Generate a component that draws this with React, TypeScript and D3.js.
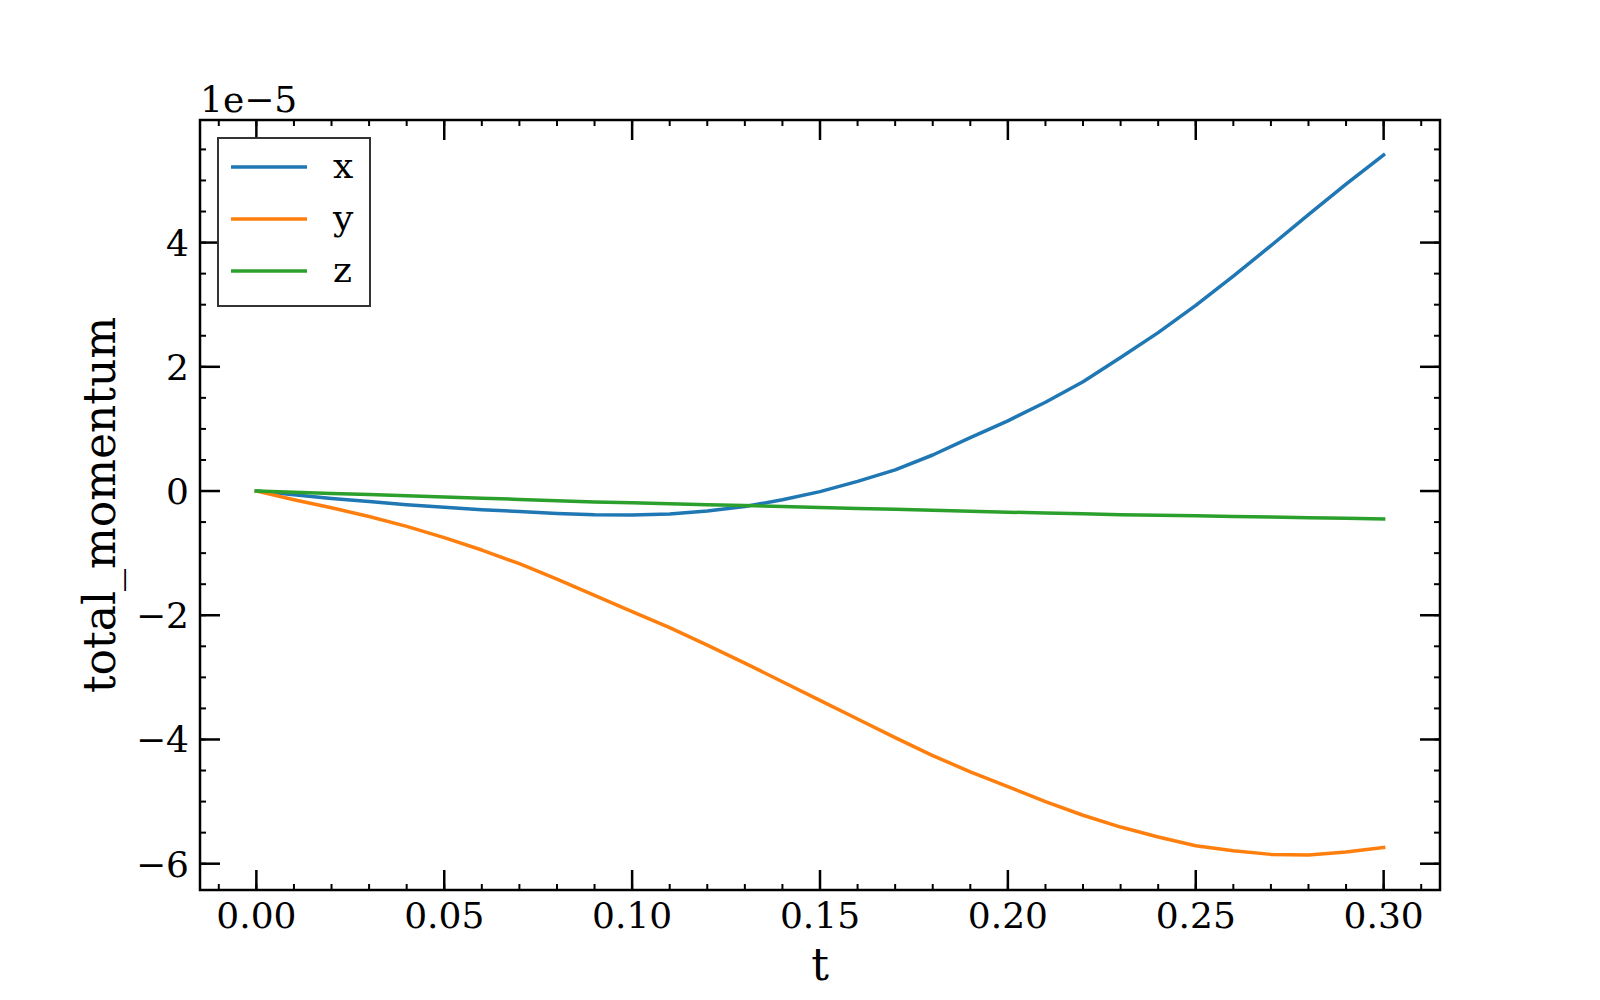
import { useEffect, useMemo } from 'react';
import * as d3 from 'd3';

// time samples
const times = [
  0.0, 0.01, 0.02, 0.03, 0.04, 0.05, 0.06, 0.07, 0.08, 0.09, 0.1, 0.11, 0.12, 0.13, 0.14, 0.15,
  0.16, 0.17, 0.18, 0.19, 0.2, 0.21, 0.22, 0.23, 0.24, 0.25, 0.26, 0.27, 0.28, 0.29, 0.3,
];

// total momentum components, in units of 1e-5
const momX = [
  0, -0.06, -0.12, -0.17, -0.22, -0.26, -0.3, -0.33, -0.36, -0.38, -0.385, -0.37, -0.32, -0.25,
  -0.14, -0.01, 0.155, 0.34, 0.58, 0.86, 1.13, 1.43, 1.76, 2.15, 2.55, 2.99, 3.46, 3.95, 4.45,
  4.94, 5.41,
];
const momY = [
  0, -0.14, -0.27, -0.41, -0.57, -0.75, -0.95, -1.17, -1.42, -1.68, -1.94, -2.2, -2.48, -2.77,
  -3.07, -3.37, -3.67, -3.97, -4.26, -4.52, -4.76, -5.0, -5.22, -5.41, -5.57, -5.71, -5.79, -5.85,
  -5.86, -5.81, -5.74,
];
const momZ = [
  0, -0.02, -0.04, -0.055, -0.075, -0.095, -0.115, -0.135, -0.155, -0.175, -0.19, -0.205, -0.22,
  -0.235, -0.25, -0.265, -0.28, -0.295, -0.31, -0.325, -0.34, -0.355, -0.365, -0.38, -0.39, -0.4,
  -0.41, -0.42, -0.43, -0.44, -0.45,
];

const seriesNames = ['x', 'y', 'z'];
const seriesColors = ['#1f77b4', '#ff7f0e', '#2ca02c'];
const xTickValues = [0, 0.05, 0.1, 0.15, 0.2, 0.25, 0.3];
const yTickValues = [-6, -4, -2, 0, 2, 4];
const offsetLabel = '1e\u22125';

const FONT = '"DejaVu Serif", serif';

export default function App() {
  useEffect(() => {
    document.body.style.margin = '0';
  }, []);

  const width = 1600;
  const height = 1000;
  const margin = { top: 120, right: 160, bottom: 110, left: 200 };
  const innerW = width - margin.left - margin.right;
  const innerH = height - margin.top - margin.bottom;

  const { x, y, paths, xMinor, yMinor } = useMemo(() => {
    const all = [...momX, ...momY, ...momZ];
    const [ymin, ymax] = d3.extent(all) as [number, number];
    const yPad = (ymax - ymin) * 0.05;
    const [tmin, tmax] = d3.extent(times) as [number, number];
    const xPad = (tmax - tmin) * 0.05;

    const x = d3.scaleLinear().domain([tmin - xPad, tmax + xPad]).range([0, innerW]);
    const y = d3.scaleLinear().domain([ymin - yPad, ymax + yPad]).range([innerH, 0]);

    const line = d3
      .line<number>()
      .x((_, i) => x(times[i]))
      .y((d) => y(d));

    const xd = x.domain();
    const yd = y.domain();
    const xMinor = d3.range(-0.01, 0.32, 0.01).filter((v) => v >= xd[0] && v <= xd[1]);
    const yMinor = d3.range(-7, 7, 0.5).filter((v) => v >= yd[0] && v <= yd[1]);

    return {
      x,
      y,
      paths: [momX, momY, momZ].map((s) => line(s) ?? ''),
      xMinor,
      yMinor,
    };
  }, [innerW, innerH]);

  const fmtX = d3.format('.2f');
  const fmtY = (v: number) => (v < 0 ? '\u2212' + Math.abs(v) : String(v));

  const major = 20;
  const minor = 6;
  const tickColor = '#000';
  const fs = 36;

  return (
    <svg width={width} height={height} style={{ display: 'block', background: '#fff' }} fontFamily={FONT}>
      <g transform={`translate(${margin.left},${margin.top})`}>
        {paths.map((d, i) => (
          <path
            key={seriesNames[i]}
            d={d}
            fill="none"
            stroke={seriesColors[i]}
            strokeWidth={3.5}
            strokeLinejoin="round"
            strokeLinecap="square"
          />
        ))}

        {/* minor ticks, all four sides, pointing in */}
        {xMinor.map((v) => (
          <g key={'xm' + v} stroke={tickColor} strokeWidth={2}>
            <line x1={x(v)} x2={x(v)} y1={innerH} y2={innerH - minor} />
            <line x1={x(v)} x2={x(v)} y1={0} y2={minor} />
          </g>
        ))}
        {yMinor.map((v) => (
          <g key={'ym' + v} stroke={tickColor} strokeWidth={2}>
            <line x1={0} x2={minor} y1={y(v)} y2={y(v)} />
            <line x1={innerW} x2={innerW - minor} y1={y(v)} y2={y(v)} />
          </g>
        ))}

        {/* major ticks */}
        {xTickValues.map((v) => (
          <g key={'xM' + v}>
            <line x1={x(v)} x2={x(v)} y1={innerH} y2={innerH - major} stroke={tickColor} strokeWidth={2.5} />
            <line x1={x(v)} x2={x(v)} y1={0} y2={major} stroke={tickColor} strokeWidth={2.5} />
            <text x={x(v)} y={innerH + 38} textAnchor="middle" fontSize={fs} fill="#000">
              {fmtX(v)}
            </text>
          </g>
        ))}
        {yTickValues.map((v) => (
          <g key={'yM' + v}>
            <line x1={0} x2={major} y1={y(v)} y2={y(v)} stroke={tickColor} strokeWidth={2.5} />
            <line x1={innerW} x2={innerW - major} y1={y(v)} y2={y(v)} stroke={tickColor} strokeWidth={2.5} />
            <text x={-11} y={y(v)} dy="0.36em" textAnchor="end" fontSize={fs} fill="#000">
              {fmtY(v)}
            </text>
          </g>
        ))}

        <rect x={0} y={0} width={innerW} height={innerH} fill="none" stroke="#000" strokeWidth={2.5} />

        <text x={0} y={-8} fontSize={fs} fill="#000">
          {offsetLabel}
        </text>

        {/* legend */}
        <g transform="translate(18,18)">
          <rect x={0} y={0} width={152} height={168} fill="#fff" stroke="#333" strokeWidth={2} />
          {seriesNames.map((name, i) => (
            <g key={name} transform={`translate(0,${29 + i * 52})`}>
              <line x1={13} x2={89} y1={0} y2={0} stroke={seriesColors[i]} strokeWidth={3.5} />
              <text x={115} y={0} dy="0.3em" fontSize={fs} fill="#000">
                {name}
              </text>
            </g>
          ))}
        </g>
      </g>

      <text x={margin.left + innerW / 2} y={980} textAnchor="middle" fontSize={44} fill="#000">
        t
      </text>
      <text
        transform={`translate(115,${margin.top + innerH / 2}) rotate(-90)`}
        textAnchor="middle"
        fontSize={44}
        fill="#000"
      >
        total_momentum
      </text>
    </svg>
  );
}
